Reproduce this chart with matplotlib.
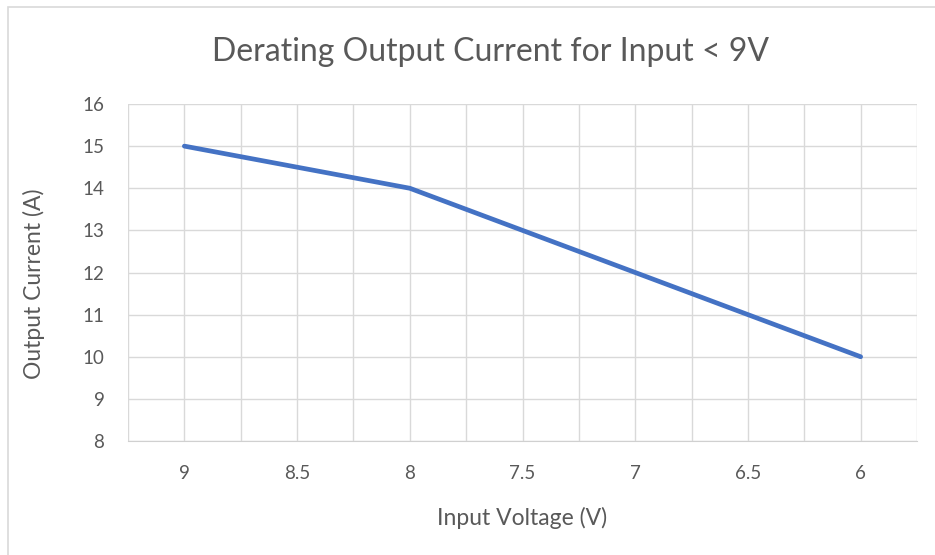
import matplotlib
matplotlib.use("Agg")
import matplotlib.pyplot as plt
from matplotlib.patches import Rectangle

# data
voltage_labels = ["9", "8.5", "8", "7.5", "7", "6.5", "6"]
current_a = [15, 14.5, 14, 13, 12, 11, 10]
y_ticks = [8, 9, 10, 11, 12, 13, 14, 15, 16]

plt.rcParams['font.family'] = ['Lato', 'DejaVu Sans']
text_col = "#595959"
grid_col = "#D9D9D9"

fig = plt.figure(figsize=(9.35, 5.55), dpi=100)
ax = fig.add_axes([128/935, 1-441/555, (917-128)/935, (441-104)/555])

# chart area border (Excel style)
fig.patches.append(Rectangle((8/935, -0.1), 1.2, 1 - 7/555 + 0.1, transform=fig.transFigure,
                             fill=False, edgecolor="#D9D9D9", linewidth=1.2))

x = list(range(len(voltage_labels)))
ax.plot(x, current_a, color="#4472C4", linewidth=3.4, solid_capstyle="round", zorder=3)

ax.set_xlim(-0.5, len(voltage_labels) - 0.5)
ax.set_ylim(8, 16)
ax.set_xticks(x)
ax.set_xticklabels(voltage_labels)
ax.set_xticks([i - 0.5 for i in range(len(voltage_labels) + 1)], minor=True)
ax.set_yticks(y_ticks)

ax.grid(True, which="both", color=grid_col, linewidth=1)
ax.set_axisbelow(True)
ax.tick_params(which="both", length=0, labelsize=13.5, colors=text_col)
ax.tick_params(axis="x", pad=17)
ax.tick_params(axis="y", pad=17)

for s in ["top", "right", "left"]:
    ax.spines[s].set_visible(False)
ax.spines["bottom"].set_color("#D0D0D0")

# axis titles placed like the Excel chart
fig.text(522/935, 1-518/555, "Input Voltage (V)", fontsize=16.5, color=text_col,
         ha="center", va="center")
fig.text(34/935, 1-284/555, "Output Current (A)", fontsize=16.5, color=text_col,
         ha="center", va="center", rotation=90)

fig.text(491/935, 1-52/555, "Derating Output Current for Input < 9V", fontsize=23,
         color=text_col, ha="center", va="center")

fig.savefig("out.png", dpi=100)
